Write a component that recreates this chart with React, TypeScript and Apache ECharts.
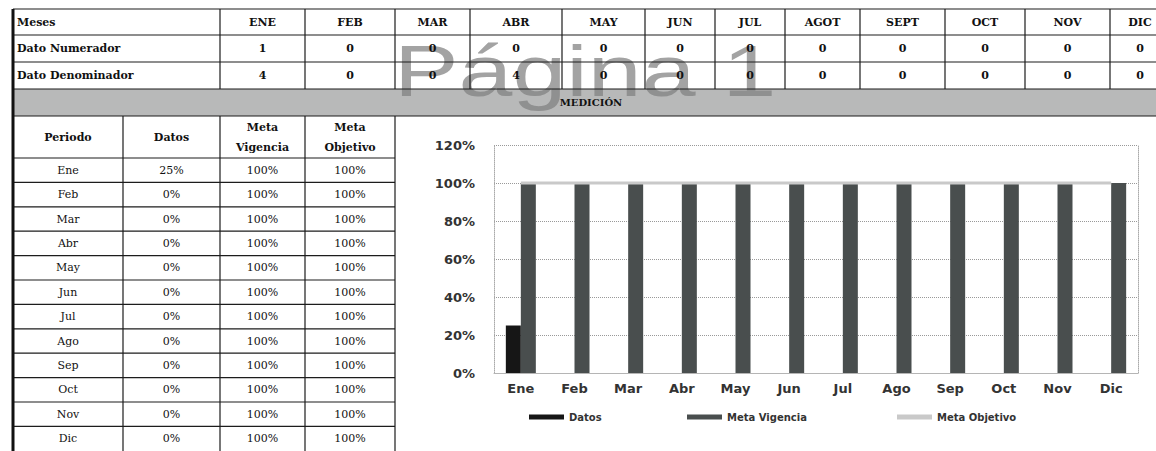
import React, { useEffect, useRef } from "react";
import * as echarts from "echarts";

// ---- Data ----
const monthHeaders = ["ENE", "FEB", "MAR", "ABR", "MAY", "JUN", "JUL", "AGOT", "SEPT", "OCT", "NOV", "DIC"];
const numerador = [1, 0, 0, 0, 0, 0, 0, 0, 0, 0, 0, 0];
const denominador = [4, 0, 0, 4, 0, 0, 0, 0, 0, 0, 0, 0];
const months = ["Ene", "Feb", "Mar", "Abr", "May", "Jun", "Jul", "Ago", "Sep", "Oct", "Nov", "Dic"];
const datos = [25, 0, 0, 0, 0, 0, 0, 0, 0, 0, 0, 0];
const metaVigencia = [100, 100, 100, 100, 100, 100, 100, 100, 100, 100, 100, 100];
const metaObjetivo = [100, 100, 100, 100, 100, 100, 100, 100, 100, 100, 100, 100];

// ---- Layout ----
const W = 1156;
const H = 451;
const topCols = [13, 220, 305, 395, 470, 562, 645, 715, 785, 860, 945, 1025, 1110, 1170];
const topRows = [9, 35, 62, 89];
const bandBottom = 116;
const lowCols = [13, 123, 220, 305, 395];
const lowHeaderBottom = 158;
const rowH = 24.4;

const SERIF = '"DejaVu Serif", "Liberation Serif", serif';
const SANS = '"DejaVu Sans", Verdana, sans-serif';
const LINE = "#1c1c1c";

function txt(text: string, x: number, y: number, bold: boolean, align: string = "center", size = 11) {
  return {
    type: "text",
    silent: true,
    z: 10,
    x,
    y,
    style: {
      text,
      fill: "#111",
      font: `${bold ? "bold " : ""}${size}px ${SERIF}`,
      textAlign: align,
      textVerticalAlign: "middle",
    },
  };
}
function ln(x1: number, y1: number, x2: number, y2: number, w = 1.2, color = LINE) {
  return {
    type: "line",
    silent: true,
    z: 9,
    shape: { x1, y1, x2, y2 },
    style: { stroke: color, lineWidth: w },
  };
}

function buildGraphic() {
  const els: any[] = [];
  // gray band
  els.push({
    type: "rect",
    silent: true,
    z: 1,
    shape: { x: 13, y: topRows[3], width: W - 13, height: bandBottom - topRows[3] },
    style: { fill: "#b8b9b9" },
  });
  // watermark
  els.push({
    type: "text",
    silent: true,
    z: 2,
    x: 394,
    y: 71,
    scaleX: 1.345,
    scaleY: 1,
    style: {
      text: "Página 1",
      fill: "rgba(128,128,128,0.72)",
      font: '72px "Liberation Sans", Arial, sans-serif',
      textAlign: "left",
      textVerticalAlign: "middle",
    },
  });
  // top table horizontal lines
  topRows.forEach((y) => els.push(ln(13, y, W, y)));
  els.push(ln(13, bandBottom, W, bandBottom));
  // top table vertical lines
  topCols.slice(1, topCols.length - 1).forEach((x) => els.push(ln(x, topRows[0], x, topRows[3])));
  // lower table
  for (let i = 0; i <= 12; i++) {
    const y = lowHeaderBottom + i * rowH;
    if (y < H - 1) els.push(ln(13, y, lowCols[4], y));
  }
  lowCols.slice(1).forEach((x) => els.push(ln(x, bandBottom, x, H)));
  // thick left border
  els.push(ln(13, topRows[0], 13, H, 3, "#111"));

  // top table texts
  const r1 = (topRows[0] + topRows[1]) / 2;
  const r2 = (topRows[1] + topRows[2]) / 2;
  const r3 = (topRows[2] + topRows[3]) / 2;
  els.push(txt("Meses", 17, r1, true, "left"));
  els.push(txt("Dato Numerador", 17, r2, true, "left"));
  els.push(txt("Dato Denominador", 17, r3, true, "left"));
  monthHeaders.forEach((m, i) => {
    const cx = i === 11 ? 1140 : (topCols[i + 1] + topCols[i + 2]) / 2;
    els.push(txt(m, cx, r1, true));
    els.push(txt(String(numerador[i]), cx, r2, true));
    els.push(txt(String(denominador[i]), cx, r3, true));
  });
  els.push(txt("MEDICIÓN", 591, (topRows[3] + bandBottom) / 2, true, "center", 10));

  // lower table header
  const hc = (bandBottom + lowHeaderBottom) / 2;
  els.push(txt("Periodo", (lowCols[0] + lowCols[1]) / 2, hc, true));
  els.push(txt("Datos", (lowCols[1] + lowCols[2]) / 2, hc, true));
  els.push(txt("Meta", (lowCols[2] + lowCols[3]) / 2, hc - 10, true));
  els.push(txt("Vigencia", (lowCols[2] + lowCols[3]) / 2, hc + 10, true));
  els.push(txt("Meta", (lowCols[3] + lowCols[4]) / 2, hc - 10, true));
  els.push(txt("Objetivo", (lowCols[3] + lowCols[4]) / 2, hc + 10, true));
  months.forEach((m, i) => {
    const cy = lowHeaderBottom + i * rowH + rowH / 2;
    els.push(txt(m, (lowCols[0] + lowCols[1]) / 2, cy, false));
    els.push(txt(`${datos[i]}%`, (lowCols[1] + lowCols[2]) / 2, cy, false));
    els.push(txt(`${metaVigencia[i]}%`, (lowCols[2] + lowCols[3]) / 2, cy, false));
    els.push(txt(`${metaObjetivo[i]}%`, (lowCols[3] + lowCols[4]) / 2, cy, false));
  });
  return els;
}

const legendText = { fontSize: 10, fontWeight: "bold", color: "#333", fontFamily: SANS };
function legend(name: string, left: number) {
  return {
    data: [name],
    left,
    top: 412,
    icon: "rect",
    itemWidth: 35,
    itemHeight: 5,
    itemGap: 0,
    padding: 0,
    textStyle: legendText,
  };
}

export default function App() {
  const ref = useRef<HTMLDivElement>(null);
  useEffect(() => {
    if (!ref.current) return;
    const chart = echarts.init(ref.current, null, { renderer: "svg" });
    chart.setOption({
      animation: false,
      backgroundColor: "#ffffff",
      grid: { left: 494, top: 145, width: 644, height: 228, containLabel: false, outerBoundsMode: "none" },
      xAxis: {
        type: "category",
        data: months,
        axisLine: { lineStyle: { color: "#b5b5b5", width: 1 } },
        axisTick: { show: false },
        axisLabel: { color: "#333", fontSize: 13, fontWeight: "bold", fontFamily: SANS, margin: 9 },
      },
      yAxis: [
        {
          type: "value",
          min: 0,
          max: 120,
          interval: 20,
          axisLabel: { formatter: "{value}%", color: "#333", fontSize: 13, fontWeight: "bold", fontFamily: SANS, margin: 19 },
          axisLine: { show: true, lineStyle: { color: "#aaa", type: "dotted" } },
          axisTick: { show: false },
          splitLine: { show: true, lineStyle: { color: "#999", type: "dotted" } },
        },
        {
          type: "value",
          min: 0,
          max: 120,
          interval: 20,
          position: "right",
          axisLabel: { show: false },
          axisLine: { show: true, lineStyle: { color: "#aaa", type: "dotted" } },
          axisTick: { show: false },
          splitLine: { show: false },
        },
      ],
      legend: [legend("Datos", 529), legend("Meta Vigencia", 687), legend("Meta Objetivo", 897)],
      graphic: buildGraphic(),
      series: [
        {
          name: "Datos",
          type: "bar",
          data: datos,
          barWidth: 15,
          barGap: "0%",
          itemStyle: { color: "#161616" },
        },
        {
          name: "Meta Vigencia",
          type: "bar",
          data: metaVigencia,
          barWidth: 15,
          barGap: "0%",
          itemStyle: { color: "#494e4e" },
        },
        {
          name: "Meta Objetivo",
          type: "line",
          data: metaObjetivo,
          symbol: "none",
          z: 5,
          itemStyle: { color: "#c9c9c9" },
          lineStyle: { color: "#c9c9c9", width: 3 },
        },
      ],
    });
    return () => chart.dispose();
  }, []);
  return (
    <div style={{ position: "absolute", left: 0, top: 0, width: W, height: H, background: "#fff" }}>
      <div ref={ref} style={{ width: W, height: H }} />
    </div>
  );
}
